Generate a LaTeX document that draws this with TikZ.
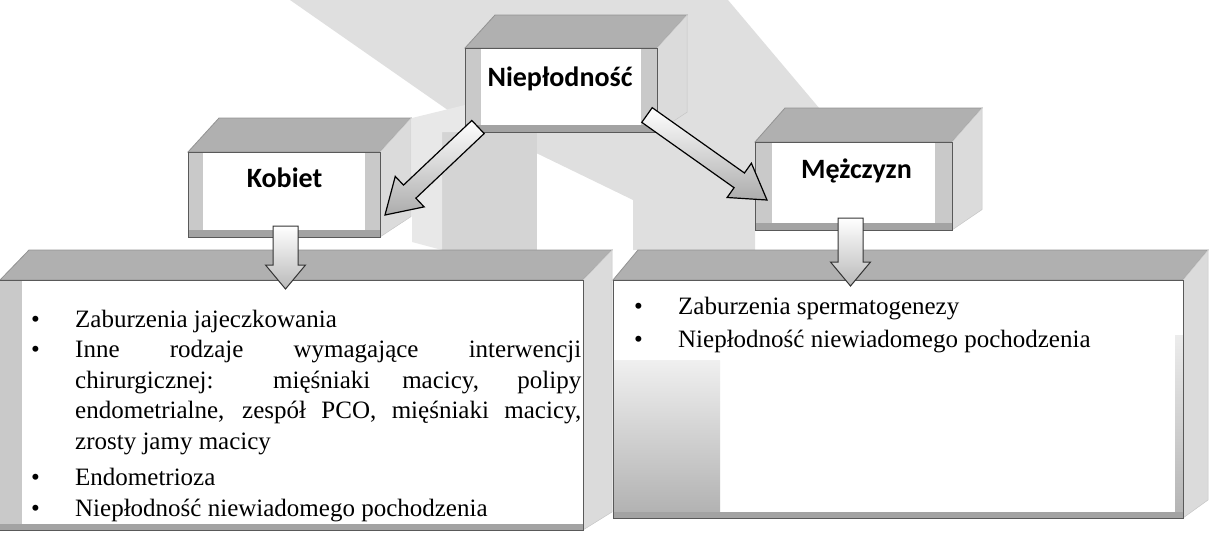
\documentclass[tikz,border=0pt]{standalone}
\usepackage{fontspec}
\setmainfont{Liberation Serif}
\newfontfamily\titlefont{Carlito}
\usetikzlibrary{calc}

\tikzset{
  topface/.style={fill=gray!62, draw=gray!85, line width=0.8pt, line join=miter},
  sideface/.style={fill=gray!28, draw=gray!45, line width=0.5pt},
  bevel/.style={fill=gray!42},
  bevelbot/.style={fill=gray!72},
  frontedge/.style={draw=black!65, line width=0.9pt},
  bgband/.style={fill=gray!25},
  title/.style={font=\titlefont\bfseries\fontsize{28}{30}\selectfont, inner sep=0pt, anchor=base},
  blockarr/.style={draw=black, line width=1.2pt, top color=white, bottom color=gray!65, line join=miter},
  downarr/.style={draw=black!80, line width=1pt, top color=white, bottom color=gray!55, line join=miter},
  listtext/.style={inner sep=0pt, anchor=base west, font=\fontsize{25}{30.5}\selectfont},
}

\newcommand\bul[1]{\noindent\makebox[#1][l]{•}}

% faces of a box: #1,#2 = front top-left; #3,#4 = front bottom-right; #5,#6 = depth offset
\newcommand\boxfaces[6]{%
  \draw[topface] (#1,#2) -- (#3,#2) -- (#3+#5,#2-#6) -- (#1+#5,#2-#6) -- cycle;
  \draw[sideface] (#3,#2) -- (#3+#5,#2-#6) -- (#3+#5,#4-#6*0.6) -- (#3,#4) -- cycle;
  \fill[white] (#1,#2) rectangle (#3,#4);
}
% small title box with bevel frame; #7 = side bevel width
\newcommand\titlebox[7]{%
  \boxfaces{#1}{#2}{#3}{#4}{#5}{#6}
  \fill[bevel] (#1,#2) rectangle (#1+#7,#4);
  \fill[bevel] (#3-#7,#2) rectangle (#3,#4);
  \fill[bevelbot] (#1,#4-7) rectangle (#3,#4);
  \draw[frontedge] (#1,#2) rectangle (#3,#4);
}
% block arrow: #1 style, #2 tail, #3 tip, #4 shaft half width, #5 head half width, #6 head length
\newcommand\blockarrow[6]{%
  \coordinate (#2#3b) at ($(#3)!#6pt!(#2)$);
  \path[#1] ($(#2)!#4pt!90:(#3)$) -- ($(#2#3b)!#4pt!-90:(#2)$) -- ($(#2#3b)!#5pt!-90:(#2)$)
     -- (#3) -- ($(#2#3b)!#5pt!90:(#2)$) -- ($(#2#3b)!#4pt!90:(#2)$) -- ($(#2)!#4pt!-90:(#3)$) -- cycle;
}

\begin{document}
\begin{tikzpicture}[x=1pt,y=-1pt]
\useasboundingbox (0,0) rectangle (1210,539);

% background light shading
\fill[bgband] (290,0) -- (728,0) -- (825,115) -- (755,142) -- (755,250) -- (633,250)
  -- (633,200) -- (497,134) -- (465,122) -- cycle;
\fill[gray!34] (442,132) rectangle (537,250);
\fill[gray!18] (412,118) -- (465,105) -- (465,132) -- (442,132) -- (442,250) -- (412,242) -- cycle;

% top box
\titlebox{465}{48}{657}{132}{30}{33}{16}
\node[title] (niep) at (560,86) {Niepłodność};

% Kobiet box
\titlebox{188}{152}{380}{237}{31}{34}{15}
\node[title] (kob) at (284.5,187) {Kobiet};

% Mezczyzn box
\titlebox{755}{142}{952}{230}{30}{34}{17}
\node[title] (mez) at (856.5,178) {Mężczyzn};

% bottom left box
\boxfaces{0}{280}{583}{530}{29}{30}
\fill[bevel] (0,280) rectangle (22,530);
\fill[bevelbot] (0,524) rectangle (583,530);
\draw[frontedge] (0,280) -- (583,280) -- (583,530) -- (0,530);

% bottom right box
\boxfaces{613}{280}{1183}{518}{25}{30}
\shade[top color=gray!12, bottom color=gray!62] (613,360) rectangle (720,518);
\shade[top color=gray!15, bottom color=gray!60] (1175,335) rectangle (1183,518);
\fill[bevelbot] (613,512) rectangle (1183,518);
\draw[frontedge] (613,280) rectangle (1183,518);

% arrows
\coordinate (a1t) at (478,127); \coordinate (a1h) at (385,215);
\coordinate (a2t) at (647,115); \coordinate (a2h) at (767,200);
\coordinate (a3t) at (285.5,226); \coordinate (a3h) at (285.5,289);
\coordinate (a4t) at (850.5,218); \coordinate (a4h) at (850.5,286);
\blockarrow{blockarr}{a1t}{a1h}{9}{21}{34}
\blockarrow{blockarr}{a2t}{a2h}{9}{21}{34}
\blockarrow{downarr}{a3t}{a3h}{12.5}{20}{24}
\blockarrow{downarr}{a4t}{a4h}{12.5}{20}{24}

% texts
\node[listtext] (ltext) at (31,327) {\parbox[t]{550pt}{\fontsize{25}{30.5}\selectfont
\hangindent=44pt\hangafter=1\bul{44pt}Zaburzenia jajeczkowania\par
\hangindent=44pt\hangafter=1\bul{44pt}Inne rodzaje wymagające interwencji\linebreak chirurgicznej: mięśniaki macicy, polipy\linebreak endometrialne, zespół PCO, mięśniaki macicy,\linebreak zrosty jamy macicy\par
\vspace{6pt}
\hangindent=44pt\hangafter=1\bul{44pt}Endometrioza\par
\hangindent=44pt\hangafter=1\bul{44pt}Niepłodność niewiadomego pochodzenia\par}};

\node[listtext] (rtext) at (634,314) {\parbox[t]{530pt}{\fontsize{25}{33}\selectfont
\hangindent=44pt\hangafter=1\bul{44pt}Zaburzenia spermatogenezy\par
\hangindent=44pt\hangafter=1\bul{44pt}Niepłodność niewiadomego pochodzenia\par}};
\end{tikzpicture}
\end{document}
